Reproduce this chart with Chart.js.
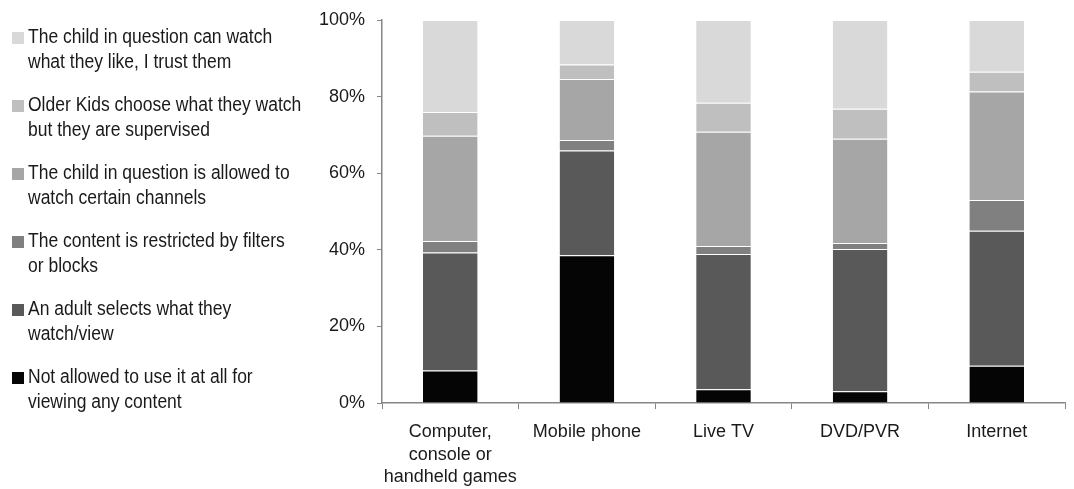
<!DOCTYPE html>
<html>
<head>
<meta charset="utf-8">
<script src="https://cdn.jsdelivr.net/npm/chart.js@4/dist/chart.umd.min.js"></script>
<style>
  html, body { margin: 0; padding: 0; background: #fff; }
  #wrap { position: relative; width: 1074px; height: 489px; }
  #chart { position: absolute; left: 0; top: 0; }
  #legend { position: absolute; left: 12px; top: 24px; margin: 0; padding: 0; list-style: none;
            font-family: "Liberation Sans", Arial, sans-serif;
            font-size: 20px; line-height: 25px; color: #1a1a1a; }
  #legend li { position: relative; padding-left: 16px; height: 50px; margin-bottom: 18px; }
  #legend .sw { position: absolute; left: 0; top: 8px; width: 12px; height: 12px; }
  #legend .tx { display: inline-block; white-space: nowrap; transform: scaleX(0.875); transform-origin: left center; }
</style>
</head>
<body>
<div id="wrap">
  <canvas id="chart" width="1074" height="489"></canvas>
  <ul id="legend"></ul>
</div>
<script>
// Devices asked about
const categories = [
  ["Computer,", "console or", "handheld games"],
  "Mobile phone",
  "Live TV",
  "DVD/PVR",
  "Internet"
];

// Share of parents choosing each rule, per device (%)
const notAllowed      = [8.5, 38.6, 3.6, 3.1, 9.7];
const adultSelects    = [30.8, 27.3, 35.3, 37.1, 35.3];
const filtersBlocks   = [3.0, 2.8, 2.1, 1.6, 8.0];
const certainChannels = [27.5, 15.9, 29.8, 27.2, 28.3];
const olderSupervised = [6.2, 3.8, 7.6, 7.8, 5.2];
const trustThem       = [24.0, 11.6, 21.6, 23.2, 13.5];

const yTicks = [0, 20, 40, 60, 80, 100];

// Stacked bottom to top
const series = [
  { label: ["Not allowed to use it at all for", "viewing any content"], data: notAllowed, color: "#050505" },
  { label: ["An adult selects what they", "watch/view"], data: adultSelects, color: "#595959" },
  { label: ["The content is restricted by filters", "or blocks"], data: filtersBlocks, color: "#808080" },
  { label: ["The child in question is allowed to", "watch certain channels"], data: certainChannels, color: "#a6a6a6" },
  { label: ["Older Kids choose what they watch", "but they are supervised"], data: olderSupervised, color: "#bfbfbf" },
  { label: ["The child in question can watch", "what they like, I trust them"], data: trustThem, color: "#d9d9d9" }
];

const font = "'Liberation Sans', Arial, sans-serif";
const axisColor = "#868686";

const chart = new Chart(document.getElementById("chart"), {
  type: "bar",
  data: {
    labels: categories,
    datasets: series.map(s => ({
      label: s.label.join(" "),
      data: s.data,
      backgroundColor: s.color,
      borderColor: "rgba(255,255,255,0.35)",
      borderWidth: { top: 1, left: 0, right: 0, bottom: 0 },
      borderSkipped: false,
      categoryPercentage: 1.0,
      barPercentage: 0.4
    }))
  },
  options: {
    responsive: false,
    animation: false,
    layout: { padding: { left: 300, right: 9, top: 20, bottom: 0 } },
    plugins: { legend: { display: false }, tooltip: { enabled: false } },
    scales: {
      x: {
        stacked: true,
        grid: { display: true, drawOnChartArea: false, drawTicks: true, tickLength: 6, color: axisColor, offset: true },
        border: { display: true, color: axisColor, width: 1.5 },
        ticks: { color: "#1a1a1a", font: { family: font, size: 18, lineHeight: 1.25 }, padding: 12, maxRotation: 0, autoSkip: false },
        afterFit: s => { s.height = 86; s.paddingLeft = 0; s.paddingRight = 0; }
      },
      y: {
        stacked: true,
        min: 0,
        max: 100,
        afterBuildTicks: s => { s.ticks = yTicks.map(v => ({ value: v })); },
        grid: { display: true, drawOnChartArea: false, drawTicks: true, tickLength: 5, color: axisColor },
        border: { display: true, color: axisColor, width: 1.5 },
        ticks: { color: "#1a1a1a", font: { family: font, size: 18 }, padding: 12, callback: v => v + "%" },
        afterFit: s => { s.width = 82; s.paddingTop = 0; s.paddingBottom = 0; }
      }
    }
  }
});

// Legend, top segment first
const legend = document.getElementById("legend");
series.slice().reverse().forEach(s => {
  const li = document.createElement("li");
  const sw = document.createElement("span");
  sw.className = "sw";
  sw.style.background = s.color;
  li.appendChild(sw);
  const tx = document.createElement("span");
  tx.className = "tx";
  s.label.forEach((line, i) => {
    if (i) tx.appendChild(document.createElement("br"));
    tx.appendChild(document.createTextNode(line));
  });
  li.appendChild(tx);
  legend.appendChild(li);
});
</script>
</body>
</html>
